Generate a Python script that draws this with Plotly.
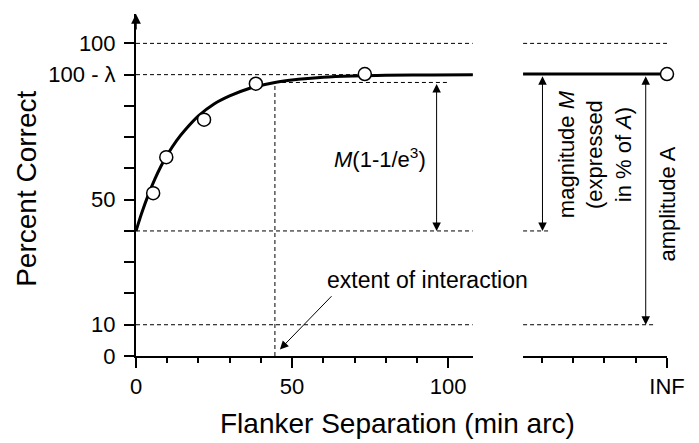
import plotly.graph_objects as go

# ---- data ----
sep_points = [5.5, 9.7, 21.8, 38.4, 73.3]          # flanker separation (min arc)
pc_points = [52.1, 63.6, 75.6, 87.1, 90.2]         # percent correct
inf_pc = 90.2                                       # percent correct at INF

curve_x = [0, 2, 4, 6, 8, 10, 13, 16, 20, 25, 30, 36, 44.5, 52, 60, 70, 80, 95, 108]
curve_y = [40, 46.2, 51.7, 56.5, 60.7, 64.3, 68.9, 72.6, 76.8, 80.6, 83.2, 85.5, 87.5,
           88.5, 89.2, 89.6, 89.8, 89.9, 90.0]

ceiling = 100        # 100 %
asymptote = 90       # 100 - lambda
baseline = 40        # curve value at zero separation
floor_level = 10     # chance level
extent = 44.5        # extent of interaction (3 tau)
extent_level = 87.5  # baseline + M(1 - 1/e^3)

x_left_max = 107.9
x_inf = 46           # INF position on the right axis segment

y_major = [0, 10, 50, 90, 100]
y_major_text = ["0", "10", "50", "100 - λ", "100"]
y_minor = [20, 30, 40, 60, 70, 80]
x_major = [0, 50, 100]
x_minor = [10, 20, 30, 40, 60, 70, 80, 90]
x2_minor = [6, 16, 26, 36]

FONT = "Liberation Sans, Arial, sans-serif"
DASH = "4px,3px"

fig = go.Figure()

# fitted curve
fig.add_trace(go.Scatter(x=curve_x, y=curve_y, mode="lines", line=dict(color="black", width=3, shape="spline"),
                         hoverinfo="skip", showlegend=False))
# right panel asymptote
fig.add_trace(go.Scatter(x=[0, x_inf], y=[inf_pc, inf_pc], xaxis="x2", yaxis="y", mode="lines",
                         line=dict(color="black", width=3), showlegend=False, hoverinfo="skip"))
# data points
fig.add_trace(go.Scatter(x=sep_points, y=pc_points, mode="markers",
                         marker=dict(symbol="circle", size=13, color="white", line=dict(color="black", width=1.5)),
                         cliponaxis=False, showlegend=False))
fig.add_trace(go.Scatter(x=[x_inf], y=[inf_pc], xaxis="x2", yaxis="y", mode="markers",
                         marker=dict(symbol="circle", size=13, color="white", line=dict(color="black", width=1.5)),
                         cliponaxis=False, showlegend=False))

shapes = []
def hline(y, x0, x1, xref="x"):
    shapes.append(dict(type="line", xref=xref, yref="y", x0=x0, x1=x1, y0=y, y1=y, layer="below",
                       line=dict(color="black", width=1, dash=DASH)))

for lvl in [ceiling, asymptote, baseline, floor_level]:
    hline(lvl, 0, x_left_max)
hline(extent_level, extent, 99.6)
shapes.append(dict(type="line", xref="x", yref="y", x0=extent, x1=extent, y0=0, y1=extent_level, layer="below",
                   line=dict(color="black", width=1, dash=DASH)))
hline(ceiling, 0, x_inf, "x2")
hline(baseline, 0, 8.5, "x2")
hline(floor_level, 0, 42, "x2")

annotations = []
def darrow(x, y0, y1, xref="x"):
    annotations.append(dict(x=x, y=y1, ax=x, ay=y0, xref=xref, yref="y", axref=xref, ayref="y", text="",
                            showarrow=True, arrowside="end+start", arrowhead=2, startarrowhead=2,
                            arrowsize=1.7, startarrowsize=1.7, arrowwidth=1, arrowcolor="black",
                            standoff=0, startstandoff=0))

darrow(96.3, extent_level, baseline)
darrow(6.2, asymptote, baseline, "x2")
darrow(39.2, asymptote, floor_level, "x2")

# y axis arrow
annotations.append(dict(x=0, y=109.4, ax=0, ay=104, xref="x", yref="y", axref="x", ayref="y", text="",
                        showarrow=True, arrowhead=2, arrowsize=1.3, arrowwidth=1.5, arrowcolor="black", standoff=0))
# extent arrow
annotations.append(dict(x=46.1, y=2.1, ax=63.1, ay=19.6, xref="x", yref="y", axref="x", ayref="y", text="",
                        showarrow=True, arrowhead=2, arrowsize=1.7, arrowwidth=1, arrowcolor="black", standoff=0))

W, H = 699, 443
ml, mr, mt, mb = 136, 699 - 667.3, 14, 443 - 356.5
pw = W - ml - mr
ph = H - mt - mb

tf = dict(family=FONT, size=22, color="black")
title_font = dict(family=FONT, size=28, color="black")
annotations += [
    dict(x=78.3, y=63.4, xref="x", yref="y", text="<i>M</i>(1-1/e<sup>3</sup>)", showarrow=False, font=tf),
    dict(x=93.5, y=24.4, xref="x", yref="y", text="extent of interaction", showarrow=False,
         font=dict(family=FONT, size=23, color="black")),
    dict(x=22.8, y=64.7, xref="x2", yref="y", text="magnitude <i>M</i><br>(expressed<br>in % of <i>A</i>)",
         showarrow=False, textangle=-90, font=tf),
    dict(x=(667.5 - ml) / pw, y=48.5, xref="paper", yref="y", text="amplitude A", showarrow=False,
         textangle=-90, font=tf, xanchor="center", yanchor="middle"),
    dict(x=(397.5 - ml) / pw, y=(356.5 - 424) / ph, xref="paper", yref="paper",
         text="Flanker Separation (min arc)", showarrow=False, font=title_font,
         xanchor="center", yanchor="middle"),
    dict(x=(27 - ml) / pw, y=(356.5 - 189) / ph, xref="paper", yref="paper", text="Percent Correct",
         showarrow=False, textangle=-90, font=title_font, xanchor="center", yanchor="middle"),
]

fig.update_layout(
    width=W, height=H, margin=dict(l=ml, r=mr, t=mt, b=mb, autoexpand=False),
    paper_bgcolor="white", plot_bgcolor="white", showlegend=False,
    font=dict(family=FONT, color="black", size=22),
    shapes=shapes, annotations=annotations,
    xaxis=dict(domain=[0, (473 - ml) / pw], range=[0, x_left_max], showgrid=False, zeroline=False,
               showline=True, linecolor="black", linewidth=2, ticks="outside", ticklen=10, tickwidth=1.5,
               tickcolor="black", tickmode="array", tickvals=x_major, ticktext=[str(v) for v in x_major],
               minor=dict(tickmode="array", tickvals=x_minor, ticks="outside",
                          ticklen=5, tickwidth=1.5, tickcolor="black", showgrid=False),
               tickfont=dict(size=22), anchor="y"),
    xaxis2=dict(domain=[(523.3 - ml) / pw, 1], range=[0, x_inf], showgrid=False, zeroline=False,
                showline=True, linecolor="black", linewidth=2, ticks="outside", ticklen=10, tickwidth=1.5,
                tickcolor="black", tickmode="array", tickvals=[x_inf], ticktext=["INF"],
                minor=dict(tickmode="array", tickvals=x2_minor, ticks="outside", ticklen=5,
                           tickwidth=1.5, tickcolor="black", showgrid=False),
                tickfont=dict(size=22), anchor="y"),
    yaxis=dict(range=[0, 109.4], showgrid=False, zeroline=False, showline=True, linecolor="black", linewidth=2,
               ticks="outside", ticklen=10, tickwidth=1.5, tickcolor="black", tickmode="array",
               tickvals=y_major, ticktext=y_major_text,
               minor=dict(tickmode="array", tickvals=y_minor, ticks="outside", ticklen=10,
                          tickwidth=1.5, tickcolor="black", showgrid=False),
               tickfont=dict(size=22), ticklabelstandoff=4, anchor="x"),
)

fig.write_html("out.html", config={"displayModeBar": False},
               post_script="document.body.style.margin='0';document.body.style.overflow='hidden';")
